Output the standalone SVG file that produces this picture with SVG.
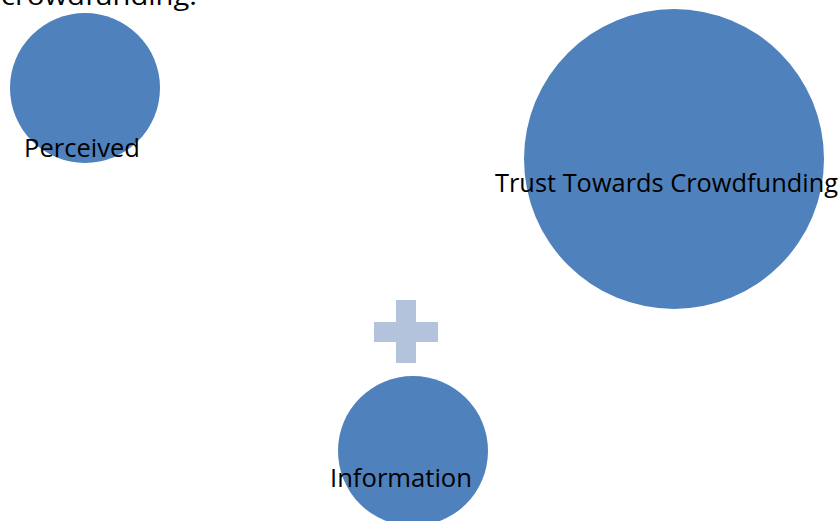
<svg xmlns="http://www.w3.org/2000/svg" width="840" height="521" viewBox="0 0 840 521">
  <style>
    .bubble { fill: #4F81BD; }
    .plus { fill: #B3C3DB; }
    .lbl { font-family: "Open Sans", "Noto Sans", sans-serif; font-size: 25px; fill: #000; }
  </style>
  <rect width="840" height="521" fill="#fff"/>
  <text class="lbl" x="1" y="5" textLength="196" lengthAdjust="spacingAndGlyphs">crowdfunding.</text>
  <g id="node-perceived">
    <circle class="bubble" cx="85" cy="88" r="75"/>
    <text class="lbl" x="24" y="157" textLength="116" lengthAdjust="spacingAndGlyphs">Perceived</text>
  </g>
  <g id="node-trust">
    <circle class="bubble" cx="674" cy="159" r="150"/>
    <text class="lbl" x="495" y="192" textLength="343" lengthAdjust="spacingAndGlyphs">Trust Towards Crowdfunding</text>
  </g>
  <g id="connectors">
    <path class="plus" d="M396 300 H416 V322 H438 V342 H416 V363 H396 V342 H374 V322 H396 Z"/>
  </g>
  <g id="node-information">
    <circle class="bubble" cx="413" cy="451" r="75"/>
    <text class="lbl" x="330" y="487" textLength="142" lengthAdjust="spacingAndGlyphs">Information</text>
  </g>
</svg>
